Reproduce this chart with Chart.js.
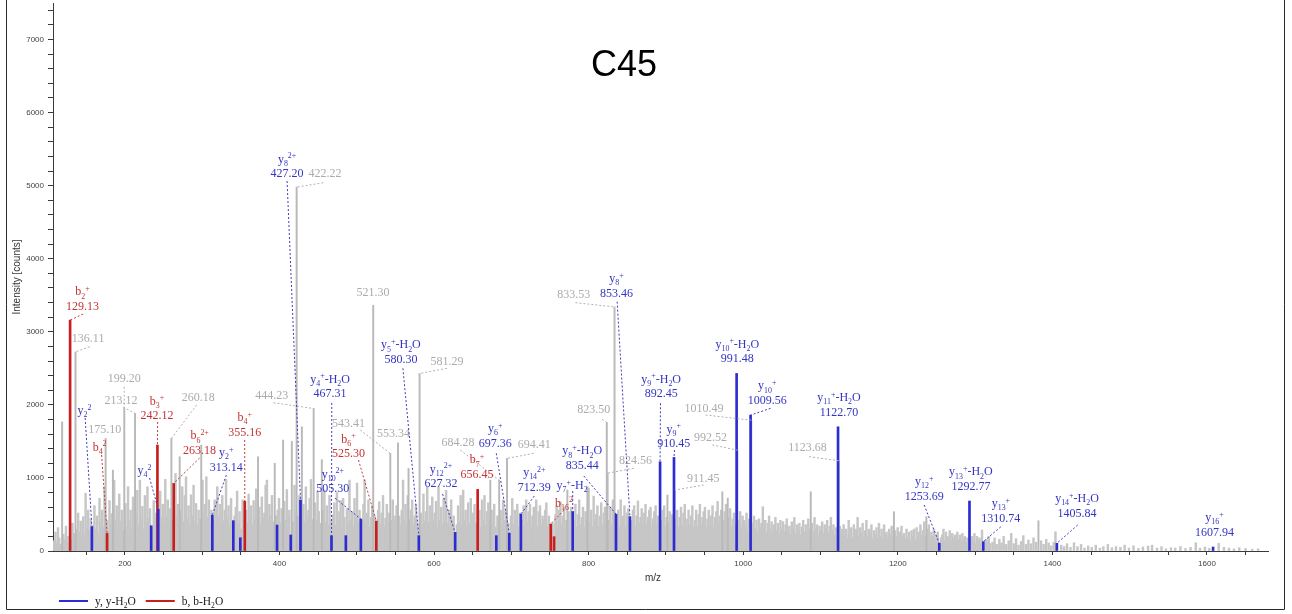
<!DOCTYPE html>
<html>
<head>
<meta charset="utf-8">
<script src="https://cdn.jsdelivr.net/npm/chart.js@4.4.1/dist/chart.umd.min.js"></script>
<style>
html,body{margin:0;padding:0;background:#fff;}
canvas{display:block;}
</style>
</head>
<body>
<canvas id="c" width="1292" height="614"></canvas>
<script>
// ---------------- spectrum data (m/z, intensity in counts) ----------------

// y-type fragment ions (blue)
const yIonMz  = [157.3, 234.0, 243.2, 313.14, 340.3, 349.4, 396.9, 414.6, 427.20, 467.31, 485.9, 505.30, 580.30, 627.32, 680.6, 697.36, 712.39, 779.4, 835.44, 853.46, 892.45, 910.45, 991.48, 1009.56, 1122.70, 1253.69, 1292.77, 1310.74, 1405.84, 1607.94];
const yIonInt = [333, 346, 570, 492, 415, 182, 355, 219, 697, 210, 210, 437, 210, 255, 210, 242, 505, 540, 505, 470, 1221, 1281, 2430, 1860, 1700, 105, 684, 128, 105, 55];
const yIonName = ['y_{2}^{2}', '', 'y_{4}^{2}', 'y_{2}^{+}', '', '', '', '', 'y_{8}^{2+}', 'y_{4}^{+}-H_{2}O', '', 'y_{10}^{2+}', 'y_{5}^{+}-H_{2}O', 'y_{12}^{2+}', '', 'y_{6}^{+}', 'y_{14}^{2+}', 'y_{7}^{+}-H_{2}', 'y_{8}^{+}-H_{2}O', 'y_{8}^{+}', 'y_{9}^{+}-H_{2}O', 'y_{9}^{+}', 'y_{10}^{+}-H_{2}O', 'y_{10}^{+}', 'y_{11}^{+}-H_{2}O', 'y_{12}^{+}', 'y_{13}^{+}-H_{2}O', 'y_{13}^{+}', 'y_{14}^{+}-H_{2}O', 'y_{16}^{+}'];
const yIonShowMz = [0, 0, 0, 1, 0, 0, 0, 0, 1, 1, 0, 1, 1, 1, 0, 1, 1, 0, 1, 1, 1, 1, 1, 1, 1, 1, 1, 1, 1, 1];

// b-type fragment ions (red)
const bIonMz  = [129.13, 177.0, 242.12, 263.18, 355.16, 525.30, 656.45, 751.0, 755.3];
const bIonInt = [3160, 240, 1450, 925, 680, 410, 843, 369, 196];
const bIonName = ['b_{2}^{+}', 'b_{4}^{2}', 'b_{3}^{+}', 'b_{6}^{2+}', 'b_{4}^{+}', 'b_{6}^{+}', 'b_{7}^{+}', 'b_{16}^{2}', ''];
const bIonShowMz = [1, 0, 1, 1, 1, 1, 1, 0, 0];

// unassigned peaks carrying an m/z label (gray)
const grayMz  = [136.11, 175.10, 199.20, 213.12, 260.18, 422.22, 444.23, 521.30, 543.41, 553.34, 581.29, 684.28, 694.41, 823.50, 824.56, 833.53, 911.45, 992.52, 1010.49, 1123.68];
const grayInt = [2725, 1540, 1950, 1883, 1540, 4980, 1950, 3363, 1335, 1480, 2430, 970, 1267, 1760, 1065, 3340, 834, 1380, 1790, 1235];

// other prominent unassigned peaks
const strongMz  = [118.8, 184.5, 270.9, 298.8, 372.3, 393.9, 404.7, 416.0, 429.0, 454.8, 567.0, 672.8, 772.5, 798.4, 902.0, 973.0, 980.0, 1087.4, 1195.0, 1237.0, 1382.0];
const strongInt = [1768, 1107, 1290, 1450, 1290, 1200, 1518, 1500, 1700, 1250, 1130, 970, 834, 880, 766, 811, 725, 811, 538, 470, 414];

// low-level background peaks [m/z, intensity]
const noisePeaks = [
[108.6,140],[110.2,260],[111.9,110],[113.5,320],[115.0,180],[116.7,90],[120.4,230],[122.1,150],[123.8,340],[125.3,120],[127.0,200],[130.6,160],[132.2,380],[133.9,240],[135.0,150],[137.8,300],[139.5,520],[141.1,260],[142.8,410],[144.4,180],[146.1,470],[147.7,220],[149.2,790],[150.9,310],[152.5,560],[154.2,280],[155.8,440],[158.9,350],[160.6,620],[162.2,300],[163.9,480],[165.5,240],[167.2,720],[168.8,390],[170.4,560],[172.1,330],[173.7,880],[176.8,420],[178.4,260],[180.1,690],[181.7,350],[183.0,510],[186.1,970],[187.8,430],[189.4,620],[191.0,300],[192.7,780],[194.3,410],[196.0,560],[197.6,280],
[200.8,650],[202.4,330],[204.1,880],[205.7,410],[207.4,560],[209.0,290],[210.6,740],[212.0,380],[214.5,520],[216.1,830],[217.8,360],[219.4,970],[221.0,440],[222.7,610],[224.3,300],[225.9,760],[227.6,390],[229.2,880],[230.8,450],[232.5,580],[235.7,330],[237.3,690],[238.9,420],[240.6,520],[244.1,380],[245.7,820],[247.4,460],[249.0,640],[250.6,360],[252.3,980],[253.9,470],[255.5,700],[257.2,390],[258.8,580],[261.8,430],[263.9,320],[265.5,1060],[267.1,480],[268.7,640],[272.6,560],[274.2,880],[275.8,400],[277.5,760],[279.1,1016],[280.7,450],[282.4,620],[284.0,340],[285.6,770],[287.2,480],[288.9,900],[290.5,410],[292.1,650],[293.8,360],[295.4,560],[297.0,440],[300.5,970],[302.1,520],[303.8,640],[305.4,1016],[307.0,460],[308.7,700],[310.3,380],[311.9,560],
[314.6,430],[316.2,700],[317.8,380],[319.5,880],[321.1,460],[322.7,640],[324.4,350],[326.0,760],[327.6,410],[329.3,560],[330.9,980],[332.5,440],[334.1,620],[335.8,330],[337.4,720],[339.0,400],[341.9,480],[343.5,600],[345.2,820],[346.8,380],[348.4,540],[350.4,300],[352.3,700],[353.9,420],[356.8,560],[358.4,380],[360.1,780],[361.7,440],[363.3,620],[365.0,360],[366.6,690],[368.2,430],[369.9,850],[371.0,460],[374.0,600],[375.6,380],[377.2,740],[378.9,450],[380.5,520],[382.1,900],[383.8,970],[385.4,420],[387.0,640],[388.7,480],[390.3,760],[392.0,400],[395.5,480],[397.8,560],[399.4,720],[401.1,380],[402.7,580],[406.3,680],[407.9,420],[409.6,840],[411.2,470],[412.8,560],[417.9,400],[419.5,900],[421.0,520],[424.3,480],[425.8,760],[431.0,640],[432.6,400],[434.2,880],[435.9,460],[437.5,560],[439.1,720],[440.8,980],[442.4,430],[446.0,660],[447.6,420],[449.3,820],[450.9,540],[452.5,380],
[456.5,560],[458.1,840],[459.8,390],[461.4,620],[463.0,350],[464.7,760],[466.3,420],[469.4,500],[471.0,660],[472.6,360],[474.3,800],[475.9,410],[477.5,540],[479.2,690],[480.8,330],[482.4,720],[484.1,460],[487.3,580],[488.9,380],[490.6,970],[492.2,420],[493.8,540],[495.5,330],[497.1,720],[498.7,460],[500.4,930],[502.0,380],[503.6,560],[507.0,420],[508.6,640],[510.2,970],[511.9,380],[513.5,520],[515.1,700],[516.8,330],[518.4,460],[520.0,620],[522.9,480],[524.4,380],[527.6,560],[529.1,675],[530.7,360],[532.3,520],[534.0,760],[535.6,330],[537.2,450],[538.9,640],[540.5,380],[542.1,520],[545.0,420],[546.6,700],[548.2,380],[549.9,480],[551.5,620],[555.0,480],[556.6,360],[558.2,560],[559.9,970],[561.5,420],[563.1,640],[564.8,360],[566.0,760],[568.4,430],[570.0,560],[571.7,700],[573.3,350],[574.9,480],[576.6,640],[578.2,380],[583.0,520],[584.6,360],[586.3,780],[587.9,410],[589.5,540],[591.2,880],[592.8,390],[594.4,620],[596.1,330],[597.7,740],[599.3,420],
[600.9,520],[602.6,680],[604.2,330],[605.8,880],[607.5,420],[609.1,600],[610.7,360],[612.4,720],[614.0,400],[615.6,830],[617.3,380],[618.9,560],[620.5,330],[622.2,700],[623.8,410],[625.4,480],[629.5,360],[631.1,620],[632.8,400],[634.4,760],[636.0,340],[637.7,834],[639.3,420],[640.9,560],[642.6,330],[644.2,660],[645.8,380],[647.5,720],[649.1,350],[650.7,520],[652.4,640],[654.0,380],[658.8,560],[660.4,330],[662.1,700],[663.7,420],[665.3,760],[667.0,360],[668.6,540],[670.2,660],[671.5,420],[674.5,560],[676.1,380],[677.8,640],[679.4,330],[682.0,480],[686.2,560],[687.8,340],[689.4,700],[691.1,420],[692.7,560],[696.0,380],[699.5,480],[701.2,720],[702.8,360],[704.4,560],[706.1,420],[707.7,640],[709.4,330],[711.0,520],[714.3,420],[715.9,620],[717.5,360],[719.2,700],[720.8,400],[722.4,540],[724.1,640],[725.7,330],[727.3,480],[729.0,600],[730.6,380],[732.2,700],[733.9,340],[735.5,540],[737.1,620],[738.8,360],[740.4,480],[742.0,430],[743.7,560],[745.3,660],[746.9,340],[748.6,480],
[753.4,380],[757.0,500],[758.6,620],[760.3,330],[761.9,560],[763.5,675],[765.2,360],[766.8,480],[768.4,600],[770.1,320],[771.2,420],[774.2,540],[775.9,380],[777.5,600],[781.3,420],[782.9,640],[784.5,330],[786.2,500],[787.8,700],[789.4,360],[791.1,460],[792.7,600],[794.3,330],[796.0,540],[797.0,420],[800.0,860],[801.6,380],[803.3,560],[804.9,330],[806.5,750],[808.2,400],[809.8,500],[811.4,620],[813.1,340],[814.7,480],[816.3,660],[818.0,360],[819.6,520],[821.2,600],[826.5,420],[828.1,600],[829.7,360],[831.4,700],[835.0,420],[838.3,560],[839.9,340],[841.5,700],[843.2,400],[844.8,480],[846.4,620],[848.1,330],[849.7,520],[851.3,580],[855.6,420],[857.3,560],[858.9,620],[860.5,340],[862.2,480],[863.8,685],[865.4,380],[867.1,460],[868.7,580],[870.3,330],[872.0,520],[873.6,640],[875.2,360],[876.9,460],[878.5,560],[880.1,600],[881.8,330],[883.4,440],[885.0,540],[886.7,620],[888.3,350],[889.9,480],[894.5,420],[896.1,560],[897.8,620],[899.4,340],[901.0,460],[903.3,380],[904.9,540],[906.6,330],[908.2,500],
[913.0,440],[914.6,560],[916.2,330],[917.9,460],[919.5,600],[921.1,350],[922.8,520],[924.4,640],[926.0,330],[927.7,440],[929.3,560],[930.9,360],[932.6,480],[934.2,620],[935.8,330],[937.5,420],[939.1,560],[940.7,340],[942.4,500],[944.0,640],[945.6,360],[947.3,460],[948.9,540],[950.5,600],[952.2,330],[953.8,440],[955.4,560],[957.1,350],[958.7,480],[960.3,620],[962.0,330],[963.6,460],[965.2,540],[966.9,680],[968.5,360],[970.1,480],[971.6,560],[974.6,420],[976.2,540],[977.8,640],[979.0,380],[981.6,460],[983.2,580],[984.9,340],[986.5,440],[988.1,520],[989.8,360],[994.4,420],[996.0,540],[997.6,330],[999.2,480],
[1001.0,420],[1002.6,330],[1004.3,520],[1005.9,280],[1007.5,440],[1012.3,380],[1013.9,480],[1015.6,300],[1017.2,424],[1018.8,260],[1020.5,440],[1022.1,320],[1023.7,380],[1025.4,606],[1027.0,300],[1028.6,420],[1030.3,260],[1031.9,380],[1033.5,480],[1035.2,290],[1036.8,400],[1038.4,250],[1040.1,360],[1041.7,460],[1043.3,280],[1045.0,380],[1046.6,240],[1048.2,420],[1049.9,300],[1051.5,401],[1053.1,260],[1054.8,360],[1056.4,440],[1058.0,270],[1059.7,340],[1061.3,230],[1062.9,400],[1064.6,300],[1066.2,460],[1067.8,240],[1069.5,360],[1071.1,280],[1072.7,380],[1074.4,220],[1076.0,330],[1077.6,420],[1079.3,260],[1080.9,360],[1082.5,240],[1084.2,440],[1085.8,300],[1089.0,380],[1090.7,260],[1092.3,460],[1093.9,300],[1095.6,360],[1097.2,220],[1098.8,340],[1100.5,280],[1102.1,400],[1103.7,240],[1105.4,360],[1107.0,300],[1108.6,420],[1110.3,250],[1111.9,340],[1113.5,460],[1115.2,280],[1116.8,360],[1118.4,220],[1120.1,320],[1121.5,260],[1125.0,340],[1126.6,230],[1128.3,300],
[1130.0,360],[1131.6,200],[1133.3,300],[1134.9,180],[1136.5,420],[1138.2,240],[1139.8,320],[1141.4,180],[1143.1,360],[1144.7,220],[1146.3,300],[1148.0,460],[1149.6,200],[1151.2,320],[1152.9,240],[1154.5,380],[1156.1,180],[1157.8,280],[1159.4,420],[1161.0,200],[1162.7,300],[1164.3,240],[1165.9,360],[1167.6,170],[1169.2,280],[1170.8,220],[1172.5,320],[1174.1,180],[1175.7,380],[1177.4,200],[1179.0,300],[1180.6,160],[1182.3,360],[1183.9,220],[1185.5,260],[1187.2,180],[1188.8,300],[1190.4,220],[1192.1,340],[1193.5,180],[1196.6,280],[1198.3,200],[1199.9,320],[1201.5,160],[1203.2,260],[1204.8,340],[1206.4,200],[1208.1,240],[1209.7,160],[1211.3,300],[1213.0,180],[1214.6,260],[1216.2,140],[1217.9,280],[1219.5,200],[1221.1,300],[1222.8,150],[1224.4,320],[1226.0,200],[1227.7,260],[1229.3,360],[1230.9,220],[1232.6,280],[1234.2,400],[1235.8,200],[1238.6,300],[1240.2,360],[1241.9,180],[1243.5,260],[1245.1,200],[1246.8,300],[1248.4,140],[1250.0,220],[1251.7,260],[1255.8,180],[1257.4,220],[1259.1,300],[1260.7,140],[1262.3,260],[1264.0,180],[1265.6,200],[1267.2,280],[1268.9,130],[1270.5,240],[1272.1,180],[1273.8,220],[1275.4,140],[1277.0,260],[1278.7,160],[1280.3,220],[1281.9,120],[1283.6,240],[1285.2,160],[1286.8,200],[1288.5,120],[1290.1,180],[1296.0,200],[1297.6,140],[1299.2,240],[1300.9,110],[1302.5,200],[1304.1,150],[1305.8,180],[1307.4,100],[1309.0,287],[1314.5,160],[1316.1,120],[1317.8,200],[1319.4,100],
[1322.5,120],[1325.2,180],[1328.0,90],[1331.4,160],[1334.2,110],[1337.0,200],[1340.3,90],[1343.5,140],[1346.8,242],[1350.1,100],[1353.0,170],[1356.2,80],[1359.6,130],[1362.4,210],[1365.8,90],[1369.0,150],[1372.3,100],[1375.6,180],[1378.9,120],[1385.4,140],[1388.7,90],[1392.0,160],[1395.2,110],[1398.5,70],[1401.8,120],[1404.0,264],[1411.5,80],[1415.2,60],[1419.0,100],[1423.4,50],[1428.0,113],[1432.5,60],[1437.1,90],[1441.6,40],[1446.3,70],[1451.0,50],[1456.2,80],[1461.5,40],[1466.0,60],[1471.8,90],[1477.0,45],[1482.3,60],[1488.0,50],[1493.5,80],[1499.1,40],[1505.0,70],[1511.3,35],[1517.2,55],[1523.8,68],[1529.0,80],[1535.4,40],[1541.2,60],[1547.0,30],[1553.5,45],[1559.0,40],[1565.7,60],[1572.3,35],[1578.8,50],[1585.6,113],[1591.0,40],[1597.4,55],[1603.0,35],[1615.2,105],[1622.0,50],[1628.5,40],[1635.0,30],[1641.8,45],[1650.0,35],[1658.6,25],[1666.2,30]
];

// axis ranges
const mzRange = [107, 1679];
const intensityRange = [0, 7500];

// ---------------- label layout ----------------
// [dx, dy, linkDx, linkDy] in px, relative to the top of the peak:
// (dx, dy) = centre of the lowest text line, (linkDx, linkDy) = start of the dotted leader
const yIonLayout = [
  [-7.3,-116.7,-6.7,-108.7], null, [-13.7,-39.4,-8.7,-31.4], [14,-48.3,14,-40], null, null, null, null,
  [-13.4,-327,-13.4,-319], [-1.4,-142.4,0.3,-132.7], null, [-28,-30.8,-25.7,-20.8], [-17.9,-176.7,-15.9,-167.4],
  [-14.2,-49.1,-12.6,-38.4], null, [-14,-90.6,-13,-80], [13.4,-27.4,13.4,-18.1], [-0.6,-26.5,0,-20.5],
  [-33.8,-49.1,-32.2,-38.1], [-13.5,-224,-12.8,-215], [1.1,-68.5,0.4,-58.5], [-0.2,-14.1,0.5,-7.4],
  [0.7,-15.1,null,null], [16.7,-15.1,20,-6.8], [1,-15.1,null,null], [-15.1,-47.6,-15.1,-38.3],
  [1.4,-15,null,null], [17.5,-23.9,17.5,-14.9], [20.1,-30.6,20.8,-18.3], [1.4,-15.3,null,null]
];
const bIonLayout = [
  [12.4,-14.1,13,-6.1], [-7.5,-86.8,-5.5,-78.5], [-0.5,-30,0.2,-23], [25.9,-33.4,25.9,-25.4],
  [-0.1,-69.6,-0.1,-61.3], [-27.8,-67.7,-17.8,-61], [-0.7,-15.4,null,null], [13.3,-21.3,13.3,-14], null
];
const grayLayout = [
  [12.6,-14.2,14.3,-5.2], [-0.8,-9.2,null,null], [-0.1,-30.2,-0.1,-21.8], [-14.1,-13.4,-11.8,-6.1],
  [26.8,-41.8,25.2,-33.5], [28.4,-13.8,26.7,-4.4], [-41.8,-13.5,-40.2,-5.8], [-0.2,-13.6,null,null],
  [-41.8,-30.8,-30.1,-23.5], [-4.5,-10.2,null,null], [27.3,-12.7,27.3,-5.1], [-41.2,-38.4,-38.9,-30.1],
  [27.3,-14.4,26.6,-5.1], [-13,-13.1,-4.6,-3.1], [27.8,-13.2,26.1,-4.9], [-40.8,-12.7,-39.1,-4.3],
  [28.4,-11.8,29,-5.1], [-26.8,-13.5,-25.1,-5.2], [-47.4,-12.5,-45.7,-5.2], [-31.3,-13.5,-29.7,-4.1]
];

// ---------------- styles ----------------
const COL = {
  yBar: '#2c2cd2', yText: '#3434c4', yLink: '#3c3cc0',
  bBar: '#c81e1e', bText: '#c43232', bLink: '#c03c3c',
  gBar: '#b9b9b9', gText: '#ababab', gLink: '#b0b0b0',
  noise: '#c6c6c6', axis: '#3a3a3a', tick: '#444'
};
const LABEL_FONT = '"Liberation Serif", "Times New Roman", serif';
const SANS = '"Liberation Sans", Arial, sans-serif';

const toPoints = (xs, ys) => xs.map((x, i) => ({ x: x, y: ys[i] }));

// rich text: plain text with _{sub} and ^{sup} parts
function parseRich(s) {
  const out = [];
  let i = 0;
  while (i < s.length) {
    if ((s[i] === '_' || s[i] === '^') && s[i + 1] === '{') {
      const j = s.indexOf('}', i);
      out.push({ t: s.slice(i + 2, j), k: s[i] === '_' ? 'sub' : 'sup' });
      i = j + 1;
    } else {
      let j = i;
      while (j < s.length && !((s[j] === '_' || s[j] === '^') && s[j + 1] === '{')) j++;
      out.push({ t: s.slice(i, j), k: 'n' });
      i = j;
    }
  }
  return out;
}
function drawRich(ctx, s, cx, cy, size, family, color, align) {
  const segs = parseRich(s);
  const small = size * 0.66;
  let w = 0;
  segs.forEach(g => {
    ctx.font = (g.k === 'n' ? size : small) + 'px ' + family;
    g.w = ctx.measureText(g.t).width;
    w += g.w;
  });
  let x = align === 'left' ? cx : cx - w / 2;
  const base = cy + size * 0.33;
  ctx.fillStyle = color;
  ctx.textAlign = 'left';
  ctx.textBaseline = 'alphabetic';
  segs.forEach(g => {
    ctx.font = (g.k === 'n' ? size : small) + 'px ' + family;
    const dy = g.k === 'sub' ? size * 0.27 : (g.k === 'sup' ? -size * 0.36 : 0);
    ctx.fillText(g.t, x, base + dy);
    x += g.w;
  });
  return w;
}

function drawPeakLabels(chart, mzs, ints, names, showMz, layout, textCol, linkCol) {
  const ctx = chart.ctx, xs = chart.scales.x, ys = chart.scales.y;
  const size = 12, gap = 14.5;
  mzs.forEach((mz, i) => {
    const L = layout[i];
    if (!L) return;
    const px = xs.getPixelForValue(mz), py = ys.getPixelForValue(ints[i]);
    const lx = px + L[0], ly = py + L[1];
    if (L[2] !== null) {
      ctx.save();
      ctx.strokeStyle = linkCol;
      ctx.lineWidth = 1;
      ctx.setLineDash([2, 2]);
      ctx.beginPath();
      ctx.moveTo(px + L[2], py + L[3]);
      ctx.lineTo(px, py);
      ctx.stroke();
      ctx.restore();
    }
    const name = names ? names[i] : '';
    const num = showMz[i] ? mz.toFixed(2) : '';
    if (name && num) {
      drawRich(ctx, name, lx, ly - gap, size, LABEL_FONT, textCol);
      drawRich(ctx, num, lx, ly, size, LABEL_FONT, textCol);
    } else {
      drawRich(ctx, name || num, lx, ly, size, LABEL_FONT, textCol);
    }
  });
}

const decorations = {
  id: 'decorations',
  afterDatasetsDraw(chart) {
    drawPeakLabels(chart, grayMz, grayInt, null, grayMz.map(() => 1), grayLayout, COL.gText, COL.gLink);
    drawPeakLabels(chart, bIonMz, bIonInt, bIonName, bIonShowMz, bIonLayout, COL.bText, COL.bLink);
    drawPeakLabels(chart, yIonMz, yIonInt, yIonName, yIonShowMz, yIonLayout, COL.yText, COL.yLink);
  },
  afterDraw(chart) {
    const ctx = chart.ctx;
    ctx.save();
    // chart title
    ctx.fillStyle = '#000';
    ctx.font = '36px ' + SANS;
    ctx.textAlign = 'center';
    ctx.textBaseline = 'middle';
    ctx.fillText('C45', 624, 66);
    // axis titles
    ctx.fillStyle = '#333';
    ctx.font = '10px ' + SANS;
    ctx.fillText('m/z', 653, 578);
    ctx.save();
    ctx.translate(17, 277);
    ctx.rotate(-Math.PI / 2);
    ctx.fillText('Intensity [counts]', 0, 0);
    ctx.restore();
    // legend
    const legend = [['y, y-H_{2}O', COL.yBar], ['b, b-H_{2}O', COL.bBar]];
    let lx = 59;
    legend.forEach(([txt, col]) => {
      ctx.strokeStyle = col;
      ctx.lineWidth = 2;
      ctx.setLineDash([]);
      ctx.beginPath();
      ctx.moveTo(lx, 601);
      ctx.lineTo(lx + 29, 601);
      ctx.stroke();
      const w = drawRich(ctx, txt, lx + 36, 601, 11.5, LABEL_FONT, '#222', 'left');
      lx += 36 + w + 10;
    });
    // outer frame
    ctx.strokeStyle = '#2a2a2a';
    ctx.lineWidth = 1;
    ctx.beginPath();
    ctx.moveTo(6.5, 0);
    ctx.lineTo(6.5, 609.5);
    ctx.lineTo(1284.5, 609.5);
    ctx.lineTo(1284.5, 0);
    ctx.stroke();
    ctx.restore();
  }
};

const barBase = { grouped: false, borderWidth: 0 };

new Chart(document.getElementById('c'), {
  type: 'bar',
  data: {
    datasets: [
      Object.assign({ label: 'y, y-H2O', data: toPoints(yIonMz, yIonInt), backgroundColor: COL.yBar, barThickness: 2, order: 0 }, barBase),
      Object.assign({ label: 'b, b-H2O', data: toPoints(bIonMz, bIonInt), backgroundColor: COL.bBar, barThickness: 2, order: 1 }, barBase),
      Object.assign({ label: 'labelled', data: toPoints(grayMz, grayInt), backgroundColor: COL.gBar, barThickness: 1.3, order: 2 }, barBase),
      Object.assign({ label: 'strong', data: toPoints(strongMz, strongInt), backgroundColor: COL.gBar, barThickness: 1.3, order: 3 }, barBase),
      Object.assign({ label: 'background', data: toPoints(noisePeaks.map(p => p[0]), noisePeaks.map(p => p[1])), backgroundColor: COL.noise, barThickness: 1.8, order: 4 }, barBase)
    ]
  },
  options: {
    responsive: false,
    animation: false,
    events: [],
    layout: { padding: { top: 3, right: 24, left: 0, bottom: 0 } },
    plugins: { legend: { display: false }, tooltip: { enabled: false }, title: { display: false } },
    scales: {
      x: {
        type: 'linear',
        min: mzRange[0], max: mzRange[1],
        offset: false,
        grid: { drawOnChartArea: false, drawTicks: true, tickLength: 4, color: COL.axis, offset: false },
        border: { color: COL.axis, width: 1 },
        ticks: {
          stepSize: 50, includeBounds: false, autoSkip: false, maxRotation: 0, padding: 4,
          color: COL.tick, font: { family: SANS, size: 8 },
          callback: v => (v % 200 === 0 ? String(v) : '')
        },
        afterFit: s => { s.height = 63; s.paddingLeft = 0; s.paddingRight = 0; }
      },
      y: {
        min: intensityRange[0], max: intensityRange[1],
        grid: { drawOnChartArea: false, drawTicks: true, tickLength: 5, color: COL.axis },
        border: { color: COL.axis, width: 1 },
        ticks: {
          stepSize: 200, includeBounds: false, autoSkip: false, padding: 4,
          color: COL.tick, font: { family: SANS, size: 8 },
          callback: v => (v % 1000 === 0 ? String(v) : '')
        },
        afterFit: s => { s.width = 53; s.paddingTop = 0; s.paddingBottom = 0; }
      }
    }
  },
  plugins: [decorations]
});
</script>
</body>
</html>
